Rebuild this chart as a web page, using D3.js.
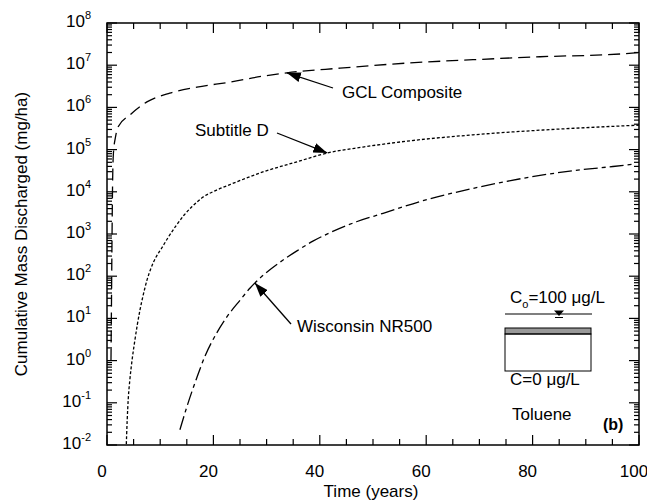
<!DOCTYPE html>
<html>
<head>
<meta charset="utf-8">
<script src="https://cdn.jsdelivr.net/npm/d3@7"></script>
<style>
  body { margin: 0; background: #fff; }
  text { font-family: Arial, 'Liberation Sans', Helvetica, sans-serif; fill: #000; }
</style>
</head>
<body>
<div id="chart"></div>
<script>
// 累積流出量グラフ (Toluene)
var width = 647, height = 504
var margin = { top: 23, right: 8, bottom: 59, left: 107 }

// 時間 (years)
var gclT = [0.75, 0.85, 0.95, 1.05, 1.2, 1.6, 2.1, 4.3, 7.5, 11.8, 16.9, 23.1, 29.3, 33.8, 43.8, 56.4, 68.8, 81.4, 97, 100]
// log10(mg/ha)
var gclLog = [0.0, 1.5, 3.0, 4.2, 4.9, 5.3, 5.54, 5.82, 6.13, 6.34, 6.48, 6.60, 6.74, 6.82, 6.93, 7.05, 7.13, 7.20, 7.27, 7.30]

var subT = [3.6, 3.8, 4.0, 4.3, 4.7, 5.2, 5.7, 6.2, 6.8, 7.5, 8.3, 9.2, 10.2, 11.5, 13.0, 14.5, 16.0, 18.0, 20.6, 23.1, 29.3, 35.7, 41.4, 48.1, 56.4, 68.8, 81.4, 98.3, 100]
var subLog = [-2.1, -1.4, -0.9, -0.45, 0.0, 0.45, 0.85, 1.2, 1.55, 1.9, 2.2, 2.45, 2.65, 2.92, 3.2, 3.45, 3.65, 3.87, 4.04, 4.17, 4.47, 4.71, 4.92, 5.06, 5.2, 5.35, 5.46, 5.57, 5.58]

var wisT = [13.7, 15.0, 16.9, 18.4, 20.6, 22.5, 25.0, 26.9, 28.8, 32.5, 35.7, 38.7, 41.9, 46.9, 51.9, 59.4, 68.8, 78.2, 87.6, 95.1, 98.7]
var wisLog = [-1.64, -1.1, -0.4, 0.1, 0.65, 1.03, 1.43, 1.72, 1.96, 2.33, 2.6, 2.83, 3.03, 3.29, 3.49, 3.79, 4.08, 4.32, 4.5, 4.6, 4.65]

var xTicks = [0, 20, 40, 60, 80, 100]
var yExp = [-2, -1, 0, 1, 2, 3, 4, 5, 6, 7, 8]

var svg = d3.select('#chart')
  .append('svg')
  .attr('width', width)
  .attr('height', height)

var x = d3.scaleLinear().domain([0, 100]).range([margin.left, width - margin.right])
var y = d3.scaleLog().domain([1e-2, 1e8]).range([height - margin.bottom, margin.top])

svg.append('defs')
  .append('clipPath')
  .attr('id', 'plot-clip')
  .append('rect')
  .attr('x', x(0))
  .attr('y', y(1e8))
  .attr('width', x(100) - x(0))
  .attr('height', y(1e-2) - y(1e8))

d3.select('defs')
  .append('marker')
  .attr('id', 'arrow')
  .attr('markerUnits', 'userSpaceOnUse')
  .attr('viewBox', '0 0 14 10')
  .attr('refX', 14)
  .attr('refY', 5)
  .attr('markerWidth', 14)
  .attr('markerHeight', 10)
  .attr('orient', 'auto')
  .append('path')
  .attr('d', 'M0,0 L14,5 L0,10 Z')
  .style('fill', '#000')

// 枠
svg.append('rect')
  .attr('x', x(0))
  .attr('y', y(1e8))
  .attr('width', x(100) - x(0))
  .attr('height', y(1e-2) - y(1e8))
  .attr('fill', 'none')
  .attr('stroke', '#000')
  .attr('stroke-width', 1.5)

// x ticks (上下とも内向き)
var xMinor = d3.range(0, 101, 5)
var xt = svg.append('g').attr('stroke', '#000').attr('stroke-width', 1.2)
xMinor.forEach(function(t) {
  var len = t % 20 === 0 ? 10 : 6
  xt.append('line').attr('x1', x(t)).attr('x2', x(t)).attr('y1', y(1e-2)).attr('y2', y(1e-2) - len)
  xt.append('line').attr('x1', x(t)).attr('x2', x(t)).attr('y1', y(1e8)).attr('y2', y(1e8) + len)
})

// y ticks (左右とも内向き)
var yt = svg.append('g').attr('stroke', '#000').attr('stroke-width', 1.2)
yExp.forEach(function(e) {
  var steps = e < 8 ? d3.range(1, 10) : [1]
  steps.forEach(function(m) {
    var v = m * Math.pow(10, e)
    var len = m === 1 ? 10 : 5
    yt.append('line').attr('x1', x(0)).attr('x2', x(0) + len).attr('y1', y(v)).attr('y2', y(v))
    yt.append('line').attr('x1', x(100)).attr('x2', x(100) - len).attr('y1', y(v)).attr('y2', y(v))
  })
})

svg.append('g')
  .selectAll('text')
  .data(xTicks)
  .enter()
  .append('text')
  .attr('x', function(d) { return x(d) - 5 })
  .attr('y', 477)
  .attr('text-anchor', 'middle')
  .attr('font-size', 17)
  .text(function(d) { return d })

var yl = svg.append('g')
  .selectAll('text')
  .data(yExp)
  .enter()
  .append('text')
  .attr('x', 91)
  .attr('y', function(d) { return y(Math.pow(10, d)) + 4 })
  .attr('text-anchor', 'end')
  .attr('font-size', 17)
yl.append('tspan').text('10')
yl.append('tspan').attr('dy', -8).attr('font-size', 11).text(function(d) { return d })

svg.append('text')
  .attr('x', 371)
  .attr('y', 497)
  .attr('text-anchor', 'middle')
  .attr('font-size', 17)
  .text('Time (years)')

svg.append('text')
  .attr('transform', 'translate(27,' + ((y(1e8) + y(1e-2)) / 2) + ') rotate(-90)')
  .attr('text-anchor', 'middle')
  .attr('font-size', 17)
  .text('Cumulative Mass Discharged (mg/ha)')

// 曲線
var line = d3.line()
  .x(function(d) { return x(d[0]) })
  .y(function(d) { return y(Math.pow(10, d[1])) })
  .curve(d3.curveMonotoneX)

var series = [
  { t: gclT, v: gclLog, dash: '12,6' },
  { t: subT, v: subLog, dash: '3,2' },
  { t: wisT, v: wisLog, dash: '14,4,4,4' }
]

svg.append('g')
  .attr('clip-path', 'url(#plot-clip)')
  .selectAll('path')
  .data(series)
  .enter()
  .append('path')
  .attr('d', function(s) { return line(d3.zip(s.t, s.v)) })
  .attr('fill', 'none')
  .attr('stroke', '#000')
  .attr('stroke-width', 1.3)
  .attr('stroke-dasharray', function(s) { return s.dash })

// ラベルと矢印
var notes = [
  { text: 'GCL Composite', tx: 342, ty: 98, x1: 333, y1: 88, t: 33.8, v: 6.82 },
  { text: 'Subtitle D', tx: 195, ty: 136, x1: 277, y1: 133, t: 41.4, v: 4.92 },
  { text: 'Wisconsin NR500', tx: 297, ty: 332, x1: 291, y1: 324, t: 27.8, v: 1.84 }
]

svg.append('g')
  .selectAll('line')
  .data(notes)
  .enter()
  .append('line')
  .attr('x1', function(d) { return d.x1 })
  .attr('y1', function(d) { return d.y1 })
  .attr('x2', function(d) { return x(d.t) })
  .attr('y2', function(d) { return y(Math.pow(10, d.v)) })
  .attr('stroke', '#000')
  .attr('stroke-width', 1.3)
  .attr('marker-end', 'url(#arrow)')

svg.append('g')
  .selectAll('text')
  .data(notes)
  .enter()
  .append('text')
  .attr('x', function(d) { return d.tx })
  .attr('y', function(d) { return d.ty })
  .attr('font-size', 17)
  .text(function(d) { return d.text })

// 挿入図 (ライナー模式図)
var inset = svg.append('g')
inset.append('line').attr('x1', 505).attr('x2', 592).attr('y1', 314).attr('y2', 314).attr('stroke', '#000').attr('stroke-width', 1.2)
inset.append('path').attr('d', 'M554,310.5 L564,310.5 L559,316 Z').attr('fill', '#000')
inset.append('line').attr('x1', 555).attr('x2', 563).attr('y1', 317.5).attr('y2', 317.5).attr('stroke', '#000').attr('stroke-width', 1)
inset.append('rect').attr('x', 505).attr('y', 328).attr('width', 86).attr('height', 6).attr('fill', '#999').attr('stroke', '#000').attr('stroke-width', 1)
inset.append('rect').attr('x', 505).attr('y', 334).attr('width', 86).attr('height', 37).attr('fill', 'none').attr('stroke', '#000').attr('stroke-width', 1)

var co = inset.append('text').attr('x', 510).attr('y', 303).attr('font-size', 17)
co.append('tspan').text('C')
co.append('tspan').attr('dy', 5).attr('font-size', 11).text('o')
co.append('tspan').attr('dy', -5).text('=100 \u03bcg/L')

inset.append('text').attr('x', 510).attr('y', 385).attr('font-size', 17).text('C=0 \u03bcg/L')
inset.append('text').attr('x', 512).attr('y', 420).attr('font-size', 17).text('Toluene')
inset.append('text').attr('x', 603).attr('y', 430).attr('font-size', 16).attr('font-weight', 'bold').text('(b)')
</script>
</body>
</html>
